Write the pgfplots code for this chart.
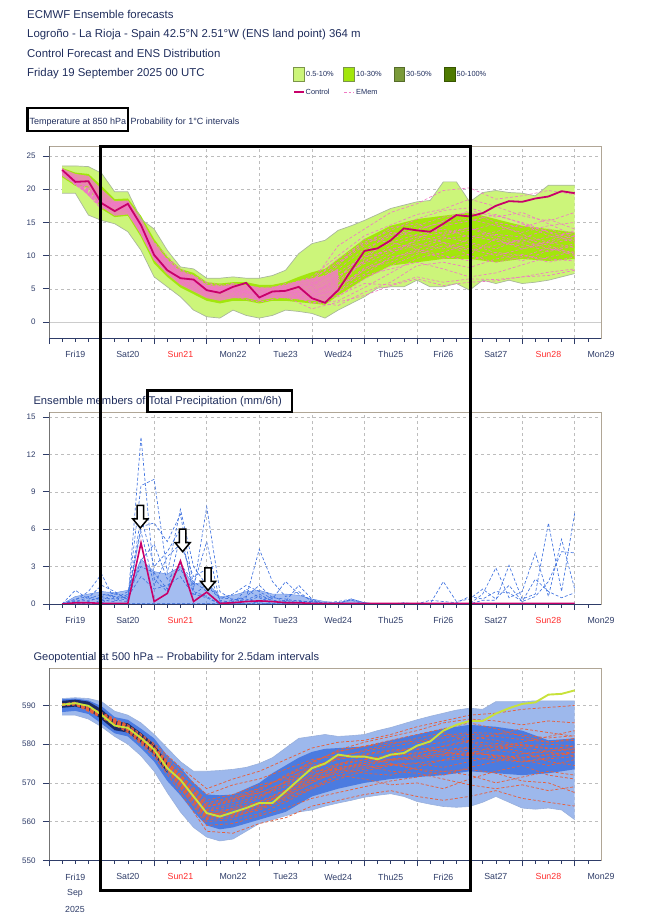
\documentclass[border=0pt]{standalone}
\usepackage{fontspec}
\setmainfont{Liberation Sans}
\usepackage{pgfplots}
\usepackage{pgfplotstable}
\pgfplotsset{compat=1.18}
\usepgfplotslibrary{fillbetween}

\definecolor{titlec}{HTML}{1F2D5C}
\definecolor{navytxt}{HTML}{2E3C68}
\definecolor{dayred}{HTML}{FF2A2A}
\definecolor{framec}{HTML}{B0A696}
\definecolor{gridc}{HTML}{BDBDBD}
\definecolor{pra}{HTML}{CCF57A}
\definecolor{prb}{HTML}{A2E60C}
\definecolor{prc}{HTML}{7A9A3A}
\definecolor{prd}{HTML}{4E7A00}
\definecolor{envedge}{HTML}{A9B79C}
\definecolor{tctl}{HTML}{C8006A}
\definecolor{tmem}{HTML}{F07AC4}
\definecolor{tdense}{HTML}{F27EC6}
\definecolor{pmem}{HTML}{3F72E0}
\definecolor{pdense}{HTML}{5A87E6}
\definecolor{zlight}{HTML}{9DB8EC}
\definecolor{zmid}{HTML}{4B7BE0}
\definecolor{znavy}{HTML}{1B2A66}
\definecolor{zmem}{HTML}{E8603C}
\definecolor{zctl}{HTML}{C8E23A}

% ---------------- temperature 850 hPa ----------------
\pgfplotstableread{
t   c
6   22.9
12  21.1
18  21.2
24  17.9
30  16.7
36  17.8
42  14.6
48  10.1
54  7.8
60  6.6
66  6.4
72  4.8
78  4.4
84  5.3
90  5.9
96  3.7
102 4.6
108 4.7
114 5.3
120 3.6
126 2.9
132 4.8
138 7.8
144 10.7
150 11.1
156 12.3
162 14.1
168 13.8
174 13.6
180 14.8
186 16.1
192 15.9
198 16.4
204 17.5
210 18.2
216 18.1
222 18.6
228 18.9
234 19.7
240 19.4
}\tctltab

\pgfplotstableread{
t   lo   hi
6   19.4 23.5
12  19.4 23.5
18  16.1 23.4
24  15.3 22.4
30  14.8 19.6
36  13.6 19.6
42  10.8 15.5
48  6.8  14.0
54  5.3  10.8
60  3.8  8.3
66  1.8  8.0
72  0.8  6.6
78  0.6  6.6
84  1.8  6.8
90  1.0  6.6
96  0.6  6.6
102 1.0  7.0
108 1.8  7.8
114 1.6  10.3
120 1.3  11.8
126 0.6  12.3
132 1.8  13.8
138 2.8  14.5
144 3.8  15.3
150 5.1  16.2
156 5.3  17.1
162 5.3  17.6
168 6.3  18.1
174 5.3  18.3
180 5.3  21.1
186 5.8  21.1
192 4.8  18.1
198 6.3  19.5
204 5.8  19.8
210 6.3  19.5
216 5.8  19.4
222 6.0  19.0
228 6.3  20.6
234 6.8  20.6
240 7.3  20.6
}\tenv

\pgfplotstableread{
t   lo   hi
6   21.8 23.2
12  20.5 22.5
18  20.2 22.3
24  17.0 20.5
30  15.8 18.5
36  16.0 18.6
42  12.8 16.0
48  8.8  12.5
54  6.8  9.8
60  5.2  8.0
66  4.2  7.4
72  3.2  6.0
78  2.8  5.8
84  3.2  6.0
90  3.2  6.0
96  2.8  5.6
102 3.2  5.6
108 3.2  6.0
114 3.0  6.8
120 2.8  7.5
126 2.6  8.0
132 4.0  9.5
144 6.5  12.5
156 8.5  14.5
168 9.0  15.5
180 9.5  16.0
192 9.5  16.5
204 9.0  15.5
216 9.5  14.5
228 9.2  14.0
240 9.5  13.5
}\tband

\pgfplotstableread{
t   lo   hi
6   22.0 23.1
12  20.7 22.3
18  20.4 22.0
24  17.3 20.0
30  16.0 18.2
36  16.2 18.3
42  13.2 15.6
48  9.3  12.0
54  7.2  9.4
60  5.6  7.6
66  4.6  7.0
72  3.6  5.6
78  3.2  5.4
84  3.6  5.6
90  3.6  5.6
96  3.2  5.2
102 3.6  5.2
108 3.6  5.6
114 3.4  6.2
120 3.2  6.6
126 3.0  7.0
132 4.5  8.0
}\tdensetab

\pgfplotstableread{
t   m1   m2   m3   m4   m5   m6   m7   m8   m9   m10  m11  m12  m13  m14  m15  m16  m17  m18  m19  m20  m21  m22  m23  m24
6   22.8 23.0 22.6 22.9 22.7 23.1 22.5 22.8 22.9 22.6 23.0 22.7 22.8 22.9 22.8 22.7 22.8 22.9 22.7 22.8 22.9 22.6 22.8 22.7
12  21.5 21.0 20.8 21.3 21.6 21.2 20.6 21.8 21.1 20.9 21.4 21.0 21.7 20.7 21.4 20.9 21.2 21.0 21.3 21.1 21.2 21.0 21.4 21.1
24  18.5 17.6 18.0 17.3 18.8 17.0 18.2 17.8 18.4 17.5 18.6 17.2 18.1 17.7 18.0 17.4 17.9 18.1 17.7 18.2 17.6 18.0 17.5 18.3
36  17.0 18.2 16.8 17.5 17.2 18.0 16.5 17.6 16.9 17.9 17.4 16.6 17.7 17.3 17.6 17.0 17.5 17.9 17.7 17.4 18.1 17.2 17.8 17.1
48  11.0 10.8 9.6  10.5 12.0 9.8  11.5 10.2 10.9 9.4  11.2 10.0 10.6 9.9  10.4 9.6  10.1 10.4 9.9  10.7 10.2 10.8 9.7  11.3
60  7.2  6.0  6.8  7.5  7.8  6.2  6.5  7.0  8.0  5.8  7.3  6.4  7.6  6.7  6.9  5.9  6.6  6.9  6.5  7.1  6.3  7.4  6.1  7.7
72  5.0  4.0  5.5  4.2  5.8  4.6  3.8  5.2  6.0  4.4  4.8  5.4  4.8  5.0  5.2  4.0  4.9  4.6  4.5  5.1  4.7  5.3  4.3  5.6
84  4.6  5.5  4.8  3.9  5.0  4.2  5.8  4.4  5.2  4.8  5.6  4.0  5.4  4.6  5.8  3.8  5.2  5.0  5.6  4.9  5.3  4.7  5.1  4.5
96  4.2  4.6  3.5  4.9  4.5  3.8  5.0  3.2  4.0  4.4  4.8  3.6  4.2  3.4  5.2  3.0  3.8  4.0  3.6  4.1  3.5  4.3  3.9  4.6
108 5.0  4.2  5.4  4.0  5.8  4.5  3.6  4.8  5.2  4.4  5.6  3.8  4.2  5.0  5.4  3.8  4.6  4.9  4.4  5.1  4.6  5.3  4.1  5.5
120 4.4  3.4  5.5  3.0  6.2  4.8  4.0  2.8  5.8  4.2  6.8  3.6  5.0  3.8  6.0  2.0  3.7  4.2  3.3  5.2  4.6  5.6  3.9  6.4
132 6.0  3.8  8.0  2.5  9.5  5.5  6.8  3.2  7.5  4.5  10.0 4.0  7.0  5.0  11.5 3.0  5.2  6.5  4.5  8.5  6.2  8.8  5.6  9.0
144 9.0  6.5  11.0 4.5  12.0 7.8  10.0 5.2  9.8  7.0  13.0 5.8  8.8  8.2  14.0 4.0  9.5  10.5 8.0  12.5 9.2  11.5 7.2  11.8
156 11.5 8.5  13.0 6.0  13.8 9.5  12.0 7.4  10.8 8.0  14.6 5.6  10.6 9.0  16.5 5.5  12.5 13.5 10.2 12.0 11.0 14.2 9.8  13.2
168 12.8 10.2 14.5 8.5  15.5 11.0 13.2 9.6  12.2 9.0  16.2 6.8  11.5 10.8 17.8 6.5  14.0 13.0 12.5 11.0 11.8 14.8 10.5 13.8
180 13.5 11.5 15.8 9.0  16.8 12.5 14.0 10.5 13.0 8.0  17.0 6.0  12.8 9.6  19.8 5.5  15.0 12.0 14.5 10.0 11.0 13.2 12.0 15.2
192 14.2 10.8 16.5 8.2  17.2 13.0 12.8 11.8 13.8 6.8  18.5 6.5  12.0 10.2 20.2 6.0  15.5 11.0 15.2 9.2  12.5 14.2 10.0 16.8
204 13.0 11.6 15.0 9.5  16.0 12.2 13.6 10.4 14.8 7.4  17.4 6.4  11.0 12.6 18.5 6.2  14.5 10.0 16.2 10.5 13.2 12.5 9.0  15.8
216 12.0 12.4 14.2 10.2 15.0 11.4 14.8 9.2  13.2 8.6  16.0 6.8  12.6 11.8 19.0 6.8  13.5 11.0 14.8 10.0 12.8 11.0 9.8  16.5
228 12.8 11.0 15.5 9.0  13.6 12.0 13.0 10.8 12.0 9.8  15.2 7.5  14.0 10.6 19.8 7.0  14.5 11.8 13.5 9.5  11.5 12.2 11.2 14.8
240 13.5 10.5 14.0 9.8  12.5 11.2 12.2 11.8 13.0 10.6 16.5 8.0  12.8 11.5 19.2 7.8  15.0 12.5 12.0 9.2  10.2 13.8 10.0 13.0
}\tmemtab

% ---------------- precipitation (mm/6h) ----------------
\pgfplotstableread{
t   c    p1   p2   p3   p4   p5   p6   p7   p8   p9   p10  p11  p12
6   0    0    0    0    0    0    0    0    0    0    0    0    0
12  0.1  0.3  1.1  0.2  0    0.1  0    0    0    0    0    0.4  0.2
18  0.1  1.0  0.4  0.5  0.2  0    0.1  0    0    0    0    0.6  0.3
24  0.05 2.4  0.8  1.5  0.6  0.3  0.1  0    0    0    0    0.3  0.5
30  0.05 0.3  0.6  1.0  0.9  0.2  0.5  0    0    0    0    0.8  0.4
36  0.05 0.2  0.5  0.3  0.4  0.8  0.3  0    0    0    0    0.6  1.0
42  4.9  13.4 9.5  6.2  7.0  5.8  3.5  0    0    0    0    2.2  3.0
48  0.2  2.0  10.0 6.5  3.0  1.5  4.8  0    0    0    0    1.2  2.5
54  0.85 1.0  2.5  5.0  4.2  3.8  2.0  0    0    0    0    1.5  1.2
60  3.45 5.5  7.6  7.2  6.0  4.8  2.8  0    0    0    0    2.2  3.2
66  0.2  1.2  3.0  1.5  0.8  2.2  1.0  0    0    0    0    0.7  1.8
72  0.95 7.8  1.5  5.0  0.5  2.8  0.6  0    0    0    0    1.6  1.0
78  0.05 1.0  0.4  0.2  0    0.3  0    0    0    0    0    0.5  0.1
84  0.1  0.3  0.8  0    0    0.1  0.2  0    0    0    0    0.4  0.3
90  0.2  0.5  1.5  1.2  0.3  0    0.4  0    0    0    0    0.2  0.6
96  0.25 4.4  1.0  0.5  0.8  0.2  0.1  0    0    0    0    0.6  1.5
102 0.2  1.8  0.4  0    0.2  0.6  0    0    0    0    0    0.3  0.5
108 0.1  0.6  1.8  0.3  0    0.2  0    0    0    0    0    0.2  0.4
114 0.1  1.0  0.8  0.1  0    1.5  0    0    0    0    0    0.3  0.2
120 0.05 0.2  0.3  0    0    0.4  0    0    0    0    0    0.1  0.2
126 0.05 0    0    0    0    0    0    0    0    0    0    0    0.1
132 0.05 0    0    0    0    0    0    0    0    0    0.1  0    0.2
138 0.05 0    0    0    0    0    0    0.4  0    0    0.3  0    0.4
144 0.05 0    0    0    0    0    0    0.1  0    0    0    0    0.1
150 0.05 0    0    0    0    0    0    0    0    0    0    0    0
156 0.05 0    0    0    0    0    0    0    0    0    0    0    0
162 0.05 0    0    0    0    0    0    0    0    0    0.1  0    0
168 0.05 0    0    0    0    0    0    0    0    0    0    0    0
174 0.05 0    0    0    0    0    0    0    0    0    0.3  0    0
180 0.05 0    0    0    0    0    0    0    0    1.8  0.2  0    0
186 0.05 0    0    0    0    0    0    0    0    0.2  0.1  0    0
192 0.05 0    0    0    0    0    0    0    0    0.4  0.6  0    0
198 0.05 0    0    0    0    0    0    0.8  0.3  1.2  0.4  0    0
204 0.05 0    0    0    0    0    0    2.9  0.3  0.4  1.0  0    0
210 0.05 0    0    0    0    0    0    0.5  3.1  1.5  0.9  0    0
216 0.05 0    0    0    0    0    0    1.0  0.4  0.2  0.2  0    0
222 0.05 0    0    0    0    0    0    4.1  0.8  0.6  2.0  0    0
228 0.05 0    0    0    0    0    0    0.6  6.5  1.8  1.0  0    0
234 0.05 0    0    0    0    0    0    5.2  1.0  4.2  0.5  0    0
240 0.05 0    0    0    0    0    0    1.2  7.3  4.1  0.9  0    0
}\ptab

% bulk of the small amounts, drawn as a shaded mass
\pgfplotstableread{
t   hi
6   0
12  0.6
18  0.8
24  1.0
30  0.9
36  1.1
42  3.6
48  2.6
54  2.4
60  3.0
66  1.6
72  1.8
78  0.6
84  0.7
90  1.0
96  1.1
102 0.8
108 0.8
114 0.7
120 0.4
126 0.2
132 0.1
138 0.3
144 0.1
150 0
}\pdensetab

% ---------------- geopotential 500 hPa (dam) ----------------
\pgfplotstableread{
t   c
6   590.2
12  590.6
18  589.9
24  587.6
30  584.8
36  584.2
42  581.6
48  578.6
54  573.8
60  570.8
66  566.5
72  562.2
78  561.3
84  562.4
90  563.5
96  564.8
102 564.8
108 567.8
114 570.8
120 573.8
126 575.0
132 577.3
138 576.8
144 576.8
150 576.1
156 577.3
162 577.7
168 579.6
174 580.7
180 583.5
186 585.0
192 586.0
198 586.0
204 587.9
210 589.3
216 590.4
222 590.8
228 592.8
234 593.0
240 593.9
}\zctltab

\pgfplotstableread{
t   lo    hi
6   587.5 591.8
12  587.5 592.0
18  586.5 591.8
24  584.5 591.0
30  582.0 588.5
36  580.0 587.5
42  577.0 585.5
48  573.0 582.5
54  567.5 579.0
60  562.5 575.5
66  558.5 573.0
72  556.0 573.0
78  555.0 573.2
84  555.5 573.5
90  557.5 574.0
96  559.5 575.0
102 560.5 576.5
108 561.5 579.0
114 562.5 581.5
120 563.0 582.0
126 564.0 582.5
132 564.8 582.0
138 565.5 582.2
144 566.3 582.5
150 566.8 583.5
156 567.2 584.3
162 566.5 585.3
168 565.2 586.3
174 564.5 587.2
180 563.9 588.0
186 563.7 588.8
192 563.9 589.3
198 565.0 589.0
204 566.5 591.0
210 565.0 591.0
216 563.5 591.0
222 563.2 591.2
228 563.5 591.2
234 563.0 591.2
240 560.5 591.2
}\zenv

\pgfplotstableread{
t   lo    hi
6   588.3 591.6
12  588.6 591.8
18  587.8 591.3
24  585.3 589.8
30  582.8 587.0
36  582.0 586.3
42  579.0 584.0
48  575.5 581.5
54  570.5 577.0
60  566.8 574.0
66  562.5 570.0
72  559.0 567.0
78  558.0 566.8
84  558.5 567.0
90  559.5 568.5
96  560.5 570.0
102 561.5 572.5
108 562.5 574.5
114 564.5 576.5
120 566.5 578.0
126 567.5 578.8
132 568.5 579.0
144 570.0 579.4
156 571.0 581.0
168 571.5 582.5
180 572.0 584.0
192 573.0 585.0
204 572.5 584.5
216 572.0 583.5
228 572.5 581.0
240 573.5 581.5
}\zband

\pgfplotstableread{
t   lo    hi
6   589.4 591.2
12  589.7 591.5
18  588.9 591.0
24  586.4 589.0
30  583.6 586.0
36  583.0 585.4
42  580.4 582.9
48  577.3 580.0
54  572.6 575.2
}\zcore

\pgfplotstableread{
t   g1    g2    g3    g4    g5    g6    g7    g8    g9    g10   g11   g12   g13   g14   g15   g16   g17   g18   g19   g20   g21   g22   g23   g24
6   590.0 590.3 590.1 590.4 590.2 590.0 590.3 590.2 590.1 590.4 590.0 590.2 590.3 590.1 590.2 590.1 590.2 590.1 590.3 590.2 590.2 590.1 590.3 590.2
12  590.4 590.8 590.2 590.6 590.5 590.7 590.3 590.6 590.4 590.9 590.1 590.5 590.7 590.3 590.5 590.5 590.6 590.4 590.6 590.5 590.7 590.4 590.6 590.5
24  587.2 588.0 587.0 587.8 587.4 587.9 587.3 587.6 587.5 588.2 586.8 587.7 587.5 587.1 587.6 587.4 587.5 587.3 587.7 587.4 587.6 587.2 587.8 587.5
36  583.8 584.5 583.2 584.8 583.5 584.6 583.9 584.3 584.0 585.0 583.0 584.1 584.4 583.6 584.2 583.9 584.2 583.9 584.3 584.0 584.4 583.7 584.5 584.1
48  578.0 579.2 577.5 579.8 577.8 579.0 578.3 578.8 578.5 580.2 576.8 578.6 578.4 577.6 578.9 578.1 578.6 578.2 578.9 578.3 579.0 577.9 579.3 578.4
60  569.5 571.8 568.5 573.0 569.0 572.0 570.2 571.0 570.5 574.0 567.5 570.8 571.3 569.2 571.5 569.8 570.6 570.0 571.2 570.4 571.6 569.6 572.2 570.2
72  561.0 564.0 560.0 567.0 559.0 565.5 562.5 563.0 561.5 568.5 557.5 562.8 564.5 560.5 563.8 561.8 562.0 561.2 563.2 562.3 563.8 560.8 564.8 561.6
84  563.5 565.5 560.5 569.5 559.5 567.0 561.5 564.0 562.0 571.0 557.0 563.2 566.0 561.0 565.8 562.6 562.5 561.8 564.6 563.0 565.2 561.4 566.4 562.2
96  566.0 568.0 562.0 571.0 561.5 569.5 563.0 566.5 564.0 573.0 559.5 565.2 567.5 563.5 568.5 564.6 564.5 563.6 566.8 565.0 567.4 563.0 568.6 564.2
108 570.5 572.0 565.0 573.5 563.5 571.0 566.5 569.0 567.5 576.0 561.0 568.2 570.0 566.0 571.5 567.0 567.5 566.5 569.4 568.0 570.2 565.6 571.6 567.2
120 574.5 575.5 568.5 576.0 566.0 574.0 570.0 572.0 572.5 579.0 564.0 571.5 573.0 569.0 575.0 570.5 571.0 570.0 573.2 571.4 573.8 568.6 575.4 570.6
132 576.0 578.0 571.0 577.0 567.5 576.5 573.5 574.0 575.0 580.5 565.5 574.8 573.5 572.0 578.5 572.5 574.0 573.0 576.2 574.6 576.8 571.8 578.2 573.4
144 577.5 579.5 573.0 576.5 569.0 578.5 575.5 574.5 576.0 581.0 567.0 577.0 572.5 571.0 580.5 574.0 575.0 574.5 577.2 576.0 578.2 573.6 579.4 575.0
156 578.5 581.0 574.5 575.0 570.5 580.0 577.0 573.0 577.5 582.5 568.0 576.0 572.0 569.5 582.0 574.8 576.0 575.8 578.2 577.0 579.4 574.8 580.4 576.2
168 579.0 582.5 575.0 573.5 571.5 581.5 577.5 572.5 579.5 584.5 566.5 576.5 574.0 570.0 583.5 573.5 577.0 576.2 578.6 577.8 580.4 575.2 580.8 576.8
180 578.0 584.0 574.0 572.0 573.0 583.0 579.5 571.0 580.5 586.0 565.5 577.5 576.0 568.5 585.5 573.0 578.2 577.0 579.4 578.6 581.6 575.8 582.2 577.4
192 577.0 585.5 575.5 574.0 572.0 580.5 581.0 569.5 582.0 587.5 566.5 578.5 577.5 571.0 586.5 573.5 579.0 577.6 580.6 579.2 582.6 576.4 583.0 577.8
204 578.5 584.0 577.0 575.5 570.0 579.0 582.5 568.5 581.0 588.0 568.0 576.5 579.5 573.0 586.0 572.5 578.4 577.2 580.2 579.8 582.0 576.0 582.8 577.0
216 580.0 582.0 576.0 577.5 571.5 580.5 584.0 569.5 579.5 589.0 566.0 575.5 578.0 574.5 585.0 570.5 577.6 576.6 579.6 579.0 581.2 575.4 582.4 576.4
228 579.0 580.5 574.5 578.0 573.0 582.0 583.0 568.0 580.0 589.5 565.0 576.5 575.5 572.0 586.0 570.0 578.2 577.4 578.8 578.2 580.6 576.2 581.6 577.2
240 578.5 581.5 576.0 577.0 572.0 583.5 582.0 569.0 579.5 590.0 564.0 578.0 574.5 571.0 585.5 567.5 579.0 578.0 579.5 578.6 581.0 576.8 582.2 577.8
}\zmemtab

\pgfplotsset{
  meteo/.style={
    scale only axis, width=552pt, height=192pt,
    xmin=0, xmax=252,
    clip mode=individual,
    axis line style={draw=framec, line width=0.8pt},
    tick align=outside,
    xtick pos=left, ytick pos=left,
    xtick={0,24,...,240},
    xticklabels={},
    minor xtick={6,12,...,246},
    major tick length=6pt, minor tick length=3.5pt,
    tick style={navytxt, line width=0.7pt},
    xmajorgrids, ymajorgrids,
    major grid style={gridc, dash pattern=on 3pt off 3pt, line width=0.5pt},
    /pgf/number format/assume math mode=true,
    yticklabel style={font=\fontsize{8}{9}\selectfont, text=navytxt, xshift=-4pt},
    extra x ticks={12,36,...,252},
    extra x tick labels={Fri19,Sat20,\textcolor{dayred}{Sun21},Mon22,Tue23,Wed24,Thu25,Fri26,Sat27,\textcolor{dayred}{Sun28},Mon29},
    extra x tick style={major tick length=0pt, grid=none,
      xticklabel style={font=\fontsize{8.8}{10}\selectfont, text=navytxt, yshift=-10pt}},
  },
  frame lines/.style={
    after end axis/.code={
      \draw[navytxt, line width=0.9pt] (rel axis cs:0,0) -- (rel axis cs:1,0);
      \draw[black!55, line width=0.9pt] (rel axis cs:0,0) -- (rel axis cs:0,1);
    }
  },
}
% hollow down-pointing marker, tip at the given axis point
\tikzset{downmark/.style={black, line width=1.5pt, fill=white, line join=miter}}
\newcommand\downarrowat[2]{%
  \draw[downmark] (axis cs:#1,#2) -- ++(-7.5pt,9pt) -- ++(4.3pt,0) -- ++(0,13.5pt)
    -- ++(6.4pt,0) -- ++(0,-13.5pt) -- ++(4.3pt,0) -- cycle;}

\begin{document}
\begin{tikzpicture}[x=1pt,y=1pt]
\path (0,0) rectangle (650,-916);

% header
\begin{scope}[every node/.style={anchor=base west, inner sep=0pt, text=titlec, font=\fontsize{11.4}{13}\selectfont}]
\node at (27,-18.3) {ECMWF Ensemble forecasts};
\node at (27,-37.8) {Logroño - La Rioja - Spain 42.5°N 2.51°W (ENS land point) 364 m};
\node at (27,-57.2) {Control Forecast and ENS Distribution};
\node at (27,-76.6) {Friday 19 September 2025 00 UTC};
\end{scope}

% probability legend
\begin{scope}[every node/.style={anchor=west, inner sep=0pt, text=titlec, font=\fontsize{7.4}{8}\selectfont}]
\draw[fill=pra, draw=prc!80!gray, line width=0.6pt] (293.5,-67) rectangle (304,-81);
\node at (306,-73.5) {0.5-10\%};
\draw[fill=prb, draw=prc!80!gray, line width=0.6pt] (343.5,-67) rectangle (354,-81);
\node at (356,-73.5) {10-30\%};
\draw[fill=prc, draw=prc!70!black, line width=0.6pt] (394,-67) rectangle (404.5,-81);
\node at (406,-73.5) {30-50\%};
\draw[fill=prd, draw=prd!70!black, line width=0.6pt] (444.5,-67) rectangle (455,-81);
\node at (456.5,-73.5) {50-100\%};
\draw[tctl, line width=1.8pt] (294,-92) -- (304,-92);
\node at (305.5,-92) {Control};
\draw[tmem, line width=0.7pt, dash pattern=on 2.5pt off 2pt] (344,-92) -- (354,-92);
\node at (356,-92) {EMem};
\end{scope}

% panel titles
\node[anchor=base west, inner sep=0pt, text=titlec, font=\fontsize{9}{10}\selectfont] at (29.5,-124.2)
  {Temperature at 850 hPa\hspace{4.5pt}Probability for 1°C intervals};
\node[anchor=base west, inner sep=0pt, text=titlec, font=\fontsize{11.2}{12}\selectfont] at (33.3,-404)
  {Ensemble members of Total Precipitation (mm/6h)};
\node[anchor=base west, inner sep=0pt, text=titlec, font=\fontsize{11.1}{12}\selectfont] at (33.3,-660.5)
  {Geopotential at 500 hPa {-}{-} Probability for 2.5dam intervals};

% ===== temperature =====
\begin{axis}[meteo, frame lines, at={(49pt,-338pt)}, anchor=south west,
  ymin=-2.4, ymax=26.5, ytick={0,5,...,25}]
  \draw[black!20, line width=0.7pt] (axis cs:0,0) -- (axis cs:252,0);
  \addplot[name path=teU, draw=envedge, line width=0.7pt] table[x=t,y=hi]{\tenv};
  \addplot[name path=teL, draw=envedge, line width=0.7pt] table[x=t,y=lo]{\tenv};
  \addplot[pra] fill between[of=teU and teL];
  \addplot[name path=tbU, draw=none] table[x=t,y=hi]{\tband};
  \addplot[name path=tbL, draw=none] table[x=t,y=lo]{\tband};
  \addplot[prb] fill between[of=tbU and tbL];
  \addplot[name path=tdU, draw=none] table[x=t,y=hi]{\tdensetab};
  \addplot[name path=tdL, draw=none] table[x=t,y=lo]{\tdensetab};
  \addplot[tdense, opacity=0.85] fill between[of=tdU and tdL];
  \pgfplotsinvokeforeach{1,...,24}{
    \addplot[tmem, line width=0.65pt, dash pattern=on 3pt off 2pt] table[x=t,y=m#1]{\tmemtab};
  }
  \addplot[tctl, line width=1.8pt] table[x=t,y=c]{\tctltab};
\end{axis}

% ===== precipitation =====
\begin{axis}[meteo, frame lines, at={(49pt,-604pt)}, anchor=south west,
  ymin=0, ymax=15.4, ytick={0,3,...,15}]
  \addplot[fill=pdense, draw=pdense, fill opacity=0.55, line width=0.4pt] table[x=t,y=hi]{\pdensetab} \closedcycle;
  \pgfplotsinvokeforeach{1,...,12}{
    \addplot[pmem, line width=0.65pt, dash pattern=on 3pt off 2pt] table[x=t,y=p#1]{\ptab};
  }
  \addplot[tctl, line width=1.6pt] table[x=t,y=c]{\ptab};
  % markers on the three control peaks
  \downarrowat{41.7}{6.1}
  \downarrowat{61}{4.2}
  \downarrowat{72.6}{1.1}
\end{axis}

% ===== geopotential =====
\begin{axis}[meteo, frame lines, at={(49pt,-860.3pt)}, anchor=south west,
  ymin=550, ymax=599.6, ytick={550,560,...,590}]
  \addplot[name path=zeU, draw=zlight!85!gray, line width=0.6pt] table[x=t,y=hi]{\zenv};
  \addplot[name path=zeL, draw=zlight!85!gray, line width=0.6pt] table[x=t,y=lo]{\zenv};
  \addplot[zlight] fill between[of=zeU and zeL];
  \addplot[name path=zbU, draw=none] table[x=t,y=hi]{\zband};
  \addplot[name path=zbL, draw=none] table[x=t,y=lo]{\zband};
  \addplot[zmid] fill between[of=zbU and zbL];
  \addplot[name path=zcU, draw=none] table[x=t,y=hi]{\zcore};
  \addplot[name path=zcL, draw=none] table[x=t,y=lo]{\zcore};
  \addplot[znavy] fill between[of=zcU and zcL];
  \pgfplotsinvokeforeach{1,...,24}{
    \addplot[zmem, line width=0.75pt, dash pattern=on 3pt off 2pt] table[x=t,y=g#1]{\zmemtab};
  }
  \addplot[zctl, line width=1.9pt] table[x=t,y=c]{\zctltab};
\end{axis}

\node[anchor=base, inner sep=0pt, text=navytxt, font=\fontsize{8.8}{10}\selectfont] at (75,-895) {Sep};
\node[anchor=base, inner sep=0pt, text=navytxt, font=\fontsize{8.8}{10}\selectfont] at (75,-912) {2025};

% highlight frames
\draw[black, line width=2.6pt] (27.5,-107.8) rectangle (128,-130.8);
\draw[black, line width=2.6pt] (147.3,-390.5) rectangle (291.8,-412);
\draw[black, line width=3pt] (100.7,-146) rectangle (470.5,-890.5);
\end{tikzpicture}
\end{document}
